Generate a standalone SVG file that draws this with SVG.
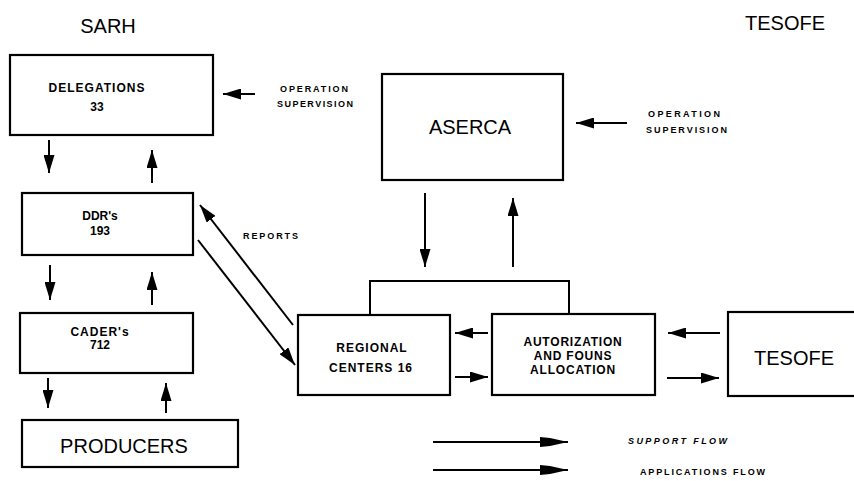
<svg xmlns="http://www.w3.org/2000/svg" width="854" height="481" viewBox="0 0 854 481">
<style>
.box{fill:#fff;stroke:#000;stroke-width:2.2}
.ln{fill:none;stroke:#000;stroke-width:2}
.big{font-family:"Liberation Sans",Arial,sans-serif;font-size:20px;fill:#000;text-anchor:middle}
.mid{font-family:"Liberation Sans",Arial,sans-serif;font-size:12px;font-weight:bold;fill:#000;text-anchor:middle}
.sm{font-family:"Liberation Sans",Arial,sans-serif;font-size:9px;font-weight:bold;fill:#000}
</style>
<defs>
<marker id="ah" viewBox="0 0 18 11" refX="18" refY="5.5" markerWidth="18" markerHeight="11" markerUnits="userSpaceOnUse" orient="auto">
<path d="M0,0 L18,5.5 L0,11 z" fill="#000"/>
</marker>
<marker id="ahw" viewBox="0 0 28 10" refX="28" refY="5" markerWidth="28" markerHeight="10" markerUnits="userSpaceOnUse" orient="auto">
<path d="M0,0 L10,1 L28,5 L10,9 L0,10 z" fill="#000"/>
</marker>
</defs>

<text class="big" x="108" y="33">SARH</text>
<text class="big" x="785" y="30">TESOFE</text>

<g id="delegations">
<rect class="box" x="10" y="55" width="203" height="80"/>
<text class="mid" x="97" y="92" letter-spacing="1">DELEGATIONS</text>
<text class="mid" x="97" y="111">33</text>
</g>
<g id="ddrs">
<rect class="box" x="22" y="193" width="171" height="62"/>
<text class="mid" x="100" y="220">DDR's</text>
<text class="mid" x="100" y="235">193</text>
</g>
<g id="caders">
<rect class="box" x="20" y="313" width="173" height="60"/>
<text class="mid" x="100" y="336" letter-spacing="1">CADER's</text>
<text class="mid" x="100" y="349">712</text>
</g>
<g id="producers">
<rect class="box" x="22" y="420" width="216" height="47"/>
<text class="big" x="124" y="453">PRODUCERS</text>
</g>
<g id="aserca">
<rect class="box" x="382" y="74" width="181" height="106"/>
<text class="big" x="470" y="134">ASERCA</text>
</g>
<g id="regional">
<rect class="box" x="298" y="315" width="152" height="80"/>
<text class="mid" x="372" y="352" letter-spacing="1">REGIONAL</text>
<text class="mid" x="371" y="372" font-size="13" letter-spacing="1">CENTERS 16</text>
</g>
<g id="autorization">
<rect class="box" x="492" y="314" width="163" height="81"/>
<text class="mid" x="573" y="346" font-size="10" letter-spacing="0.8">AUTORIZATION</text>
<text class="mid" x="573" y="360" font-size="10" letter-spacing="0.8">AND FOUNS</text>
<text class="mid" x="573" y="374" font-size="10" letter-spacing="0.8">ALLOCATION</text>
</g>
<g id="tesofe">
<rect class="box" x="728" y="312" width="140" height="84"/>
<text class="big" x="794" y="365" font-size="21">TESOFE</text>
</g>

<g id="connectors">
<line class="ln" x1="255" y1="94" x2="223" y2="94" marker-end="url(#ah)"/>
<line class="ln" x1="627" y1="123" x2="576" y2="123" marker-end="url(#ah)"/>
<line class="ln" x1="49" y1="140" x2="49" y2="173" marker-end="url(#ah)"/>
<line class="ln" x1="152" y1="183" x2="152" y2="150" marker-end="url(#ah)"/>
<line class="ln" x1="50" y1="265" x2="50" y2="300" marker-end="url(#ah)"/>
<line class="ln" x1="152" y1="305" x2="152" y2="272" marker-end="url(#ah)"/>
<line class="ln" x1="48" y1="378" x2="48" y2="408" marker-end="url(#ah)"/>
<line class="ln" x1="166" y1="413" x2="166" y2="383" marker-end="url(#ah)"/>
<line class="ln" x1="425" y1="193" x2="425" y2="267" marker-end="url(#ah)"/>
<line class="ln" x1="513" y1="267" x2="513" y2="198" marker-end="url(#ah)"/>
<polyline class="ln" points="370,315 370,281 569,281 569,314"/>
<line class="ln" x1="293" y1="325" x2="200" y2="205" marker-end="url(#ah)"/>
<line class="ln" x1="198" y1="240" x2="295" y2="365" marker-end="url(#ah)"/>
<line class="ln" x1="488" y1="333" x2="455" y2="333" marker-end="url(#ah)"/>
<line class="ln" x1="455" y1="377" x2="488" y2="377" marker-end="url(#ah)"/>
<line class="ln" x1="720" y1="333" x2="668" y2="333" marker-end="url(#ah)"/>
<line class="ln" x1="667" y1="378" x2="719" y2="378" marker-end="url(#ah)"/>
<line class="ln" x1="433" y1="442" x2="568" y2="442" marker-end="url(#ahw)"/>
<line class="ln" x1="433" y1="470" x2="568" y2="470" marker-end="url(#ahw)"/>
</g>

<text class="sm" x="280" y="92" font-size="9" textLength="68" lengthAdjust="spacing">OPERATION</text>
<text class="sm" x="277" y="107" font-size="9" textLength="76" lengthAdjust="spacing">SUPERVISION</text>
<text class="sm" x="648" y="117" font-size="9" textLength="72" lengthAdjust="spacing">OPERATION</text>
<text class="sm" x="646" y="133" font-size="9" textLength="81" lengthAdjust="spacing">SUPERVISION</text>
<text class="sm" x="243" y="239" font-size="8" textLength="55" lengthAdjust="spacing">REPORTS</text>
<text class="sm" x="628" y="444" font-size="10" font-style="italic" textLength="99" lengthAdjust="spacing">SUPPORT FLOW</text>
<text class="sm" x="640" y="475" font-size="10" textLength="125" lengthAdjust="spacing">APPLICATIONS FLOW</text>
</svg>
